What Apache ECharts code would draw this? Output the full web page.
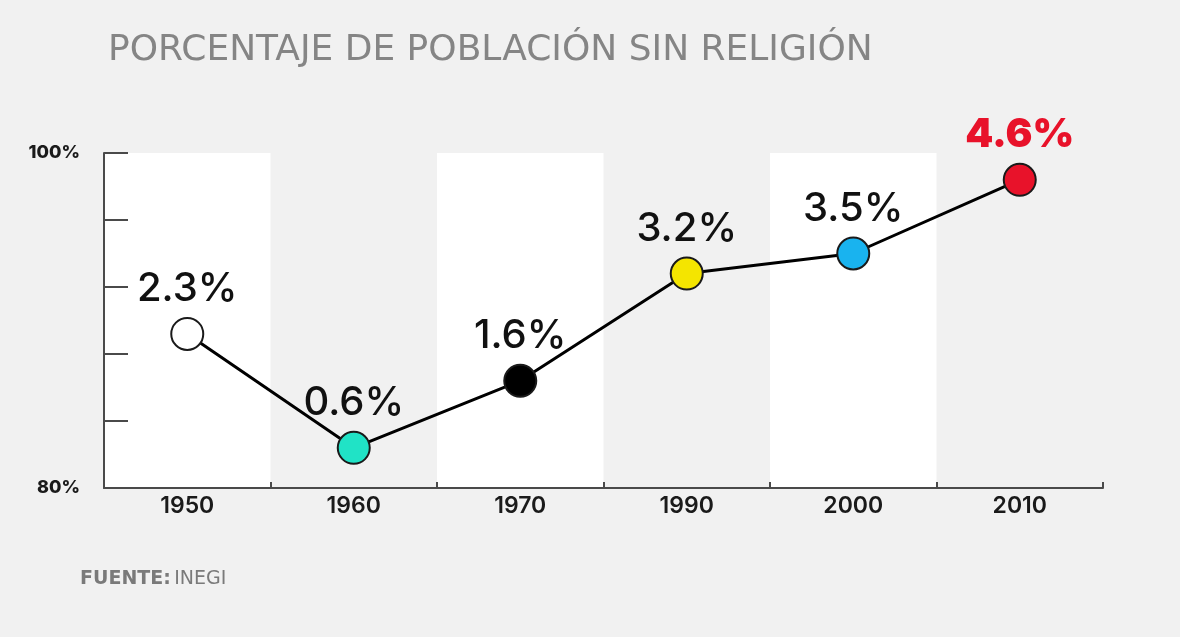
<!DOCTYPE html>
<html>
<head>
<meta charset="utf-8">
<script src="https://cdn.jsdelivr.net/npm/echarts@6/dist/echarts.min.js"></script>
<style>
  html, body { margin: 0; padding: 0; background: #f1f1f1; }
  #chart { width: 1180px; height: 637px; }
</style>
</head>
<body>
<div id="chart"></div>
<script>
  // data
  const years = ['1950', '1960', '1970', '1990', '2000', '2010'];
  const sinReligion = [2.3, 0.6, 1.6, 3.2, 3.5, 4.6];
  const pointColors = ['#ffffff', '#20e3c6', '#000000', '#f4e500', '#19b3ef', '#e8122a'];
  const yTickLabels = { 0: '80%', 5: '100%' };

  const FONT = 'Inter, "Noto Sans", sans-serif';
  const WIDE = '"DejaVu Sans", sans-serif';

  const myChart = echarts.init(document.getElementById('chart'));

  const option = {
    backgroundColor: '#f1f1f1',
    animation: false,
    title: {
      text: 'PORCENTAJE DE POBLACIÓN SIN RELIGIÓN',
      left: 103,
      top: 28,
      textStyle: {
        color: '#858585',
        fontFamily: WIDE,
        fontWeight: 'normal',
        fontSize: 36
      }
    },
    graphic: [{
      type: 'text',
      left: 80,
      top: 570,
      style: {
        text: '{b|FUENTE:} {n|INEGI}',
        rich: {
          b: { fontFamily: WIDE, fontWeight: 'bold', fontSize: 19, fill: '#7a7a7a' },
          n: { fontFamily: WIDE, fontWeight: 'normal', fontSize: 19, fill: '#7a7a7a' }
        }
      }
    }],
    grid: {
      left: 104,
      right: 77,
      top: 153,
      bottom: 149
    },
    xAxis: {
      type: 'category',
      data: years,
      boundaryGap: true,
      axisLine: { lineStyle: { color: '#4a4a4a', width: 2 } },
      axisTick: { show: true, inside: true, length: 6, lineStyle: { color: '#4a4a4a', width: 2 } },
      axisLabel: {
        color: '#1a1a1a',
        fontFamily: FONT,
        fontWeight: 600,
        fontSize: 23,
        margin: 7
      },
      splitArea: {
        show: true,
        areaStyle: { color: ['#ffffff', 'rgba(0,0,0,0)'] }
      }
    },
    yAxis: {
      type: 'value',
      min: 0,
      max: 5,
      interval: 1,
      axisLine: { show: true, lineStyle: { color: '#4a4a4a', width: 2 } },
      axisTick: { show: true, inside: true, length: 24, lineStyle: { color: '#4a4a4a', width: 2 } },
      splitLine: { show: false },
      axisLabel: {
        formatter: function (v) { return yTickLabels[v] || ''; },
        color: '#1a1a1a',
        fontFamily: FONT,
        fontWeight: 800,
        fontSize: 18,
        margin: 24,
        verticalAlign: 'middle',
        padding: [0, 0, 4, 0]
      }
    },
    series: [{
      type: 'line',
      data: sinReligion.map(function (v, i) {
        const last = i === sinReligion.length - 1;
        return {
          value: v,
          itemStyle: { color: pointColors[i] },
          label: last ? { color: '#e8122a', fontWeight: 900 } : {}
        };
      }),
      symbol: 'circle',
      symbolSize: 32,
      lineStyle: { color: '#000000', width: 3 },
      itemStyle: { borderColor: '#1a1a1a', borderWidth: 2 },
      z: 5,
      label: {
        show: true,
        position: 'top',
        distance: 8,
        formatter: function (p) { return p.value + '%'; },
        color: '#111111',
        fontFamily: FONT,
        fontWeight: 500,
        fontSize: 40
      }
    }]
  };

  myChart.setOption(option);
</script>
</body>
</html>
